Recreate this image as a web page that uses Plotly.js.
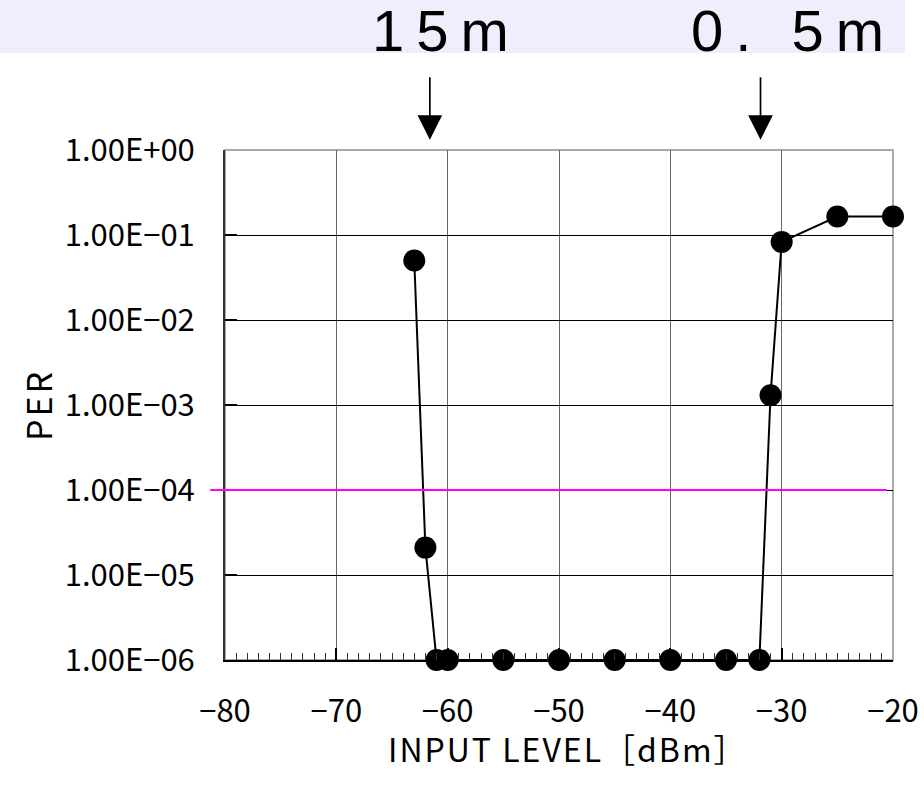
<!DOCTYPE html>
<html>
<head>
<meta charset="utf-8">
<script src="https://cdn.plot.ly/plotly-3.0.1.min.js"></script>
<style>html,body{margin:0;padding:0;background:#fff;}#chart{width:924px;height:792px;}</style>
</head>
<body>
<div id="chart"></div>
<script>
// Data
const inputLevel = [-63, -62, -61, -60, -55, -50, -45, -40, -35, -32, -31, -30, -25, -20];
const per = [5.0e-2, 2.1e-5, 1e-6, 1e-6, 1e-6, 1e-6, 1e-6, 1e-6, 1e-6, 1e-6, 1.3e-3, 8.3e-2, 1.65e-1, 1.65e-1];
const perLimit = 1e-4;
const yTickVals = [1e0, 1e-1, 1e-2, 1e-3, 1e-4, 1e-5, 1e-6];
const yTickText = ["1.00E+00", "1.00E\u221201", "1.00E\u221202", "1.00E\u221203", "1.00E\u221204", "1.00E\u221205", "1.00E\u221206"];
const xTitle = "INPUT LEVEL［dBm］";
const yTitle = "PER";
const distanceLabels = ["15m", "0. 5m"];
const distanceLabelX = [-60.1, -28.9];
const arrowX = [-61.6, -31.9];

const FONT = '"Noto Sans CJK JP", "Noto Sans", sans-serif';
const LABEL_FONT = '"Liberation Sans", Arial, sans-serif';

const traces = [{
  x: inputLevel,
  y: per,
  type: 'scatter',
  mode: 'lines+markers',
  line: {color: '#000', width: 2},
  marker: {color: '#000', size: 22, symbol: 'circle'},
  cliponaxis: false,
  showlegend: false,
  hoverinfo: 'x+y'
}];

const shapes = [
  // lavender header band
  {type: 'rect', xref: 'paper', yref: 'paper', x0: -0.34, x1: 1.018, y0: 1.19, y1: 1.30,
   fillcolor: '#eeeefc', line: {width: 0}, layer: 'below'},
  // plot frame (gray top/right)
  {type: 'rect', xref: 'paper', yref: 'paper', x0: 0, x1: 1, y0: 0, y1: 1,
   line: {color: '#aaaaaa', width: 2}, fillcolor: 'rgba(0,0,0,0)', layer: 'below'},
  // PER limit line
  {type: 'line', xref: 'paper', yref: 'y', x0: -0.022, x1: 0.991, y0: perLimit, y1: perLimit,
   line: {color: '#ff00ff', width: 2}, layer: 'above'}
];

const annotations = [];
for (let i = 0; i < arrowX.length; i++) {
  annotations.push({
    x: arrowX[i], xref: 'x', y: 1.02, yref: 'paper',
    text: '', showarrow: true, arrowhead: 2, arrowsize: 2.9, arrowwidth: 1.7,
    arrowcolor: '#000', ax: 0, ay: -64
  });
  annotations.push({
    x: distanceLabelX[i], xref: 'x', y: 1.235, yref: 'paper',
    text: '<span style="letter-spacing:12px">' + distanceLabels[i] + '</span>', showarrow: false,
    xanchor: 'center', yanchor: 'middle',
    font: {family: LABEL_FONT, size: 58, color: '#000'}
  });
}
// x-axis title placed under the tick labels
annotations.push({
  x: 0.513, xref: 'paper', y: -0.172, yref: 'paper',
  text: '<span style="letter-spacing:2px">' + xTitle + '</span>', showarrow: false,
  xanchor: 'center', yanchor: 'middle',
  font: {family: FONT, size: 32, color: '#000'}
});

const layout = {
  width: 924, height: 792,
  margin: {l: 225, r: 31, t: 150, b: 132},
  paper_bgcolor: '#fff', plot_bgcolor: '#fff',
  font: {family: FONT, size: 30, color: '#000'},
  showlegend: false,
  xaxis: {
    range: [-80, -20],
    dtick: 10, tick0: -80,
    ticks: 'inside', ticklen: 12, tickwidth: 2, tickcolor: '#000',
    minor: {dtick: 1, ticks: 'inside', ticklen: 7, tickwidth: 1, tickcolor: '#333', showgrid: false},
    showgrid: true, gridcolor: '#666', gridwidth: 1,
    showline: true, linecolor: '#000', linewidth: 2,
    zeroline: false,
    ticklabelstandoff: 23,
    tickfont: {family: FONT, size: 31, color: '#000'}
  },
  yaxis: {
    type: 'log',
    range: [-6, 0],
    tickvals: yTickVals, ticktext: yTickText,
    ticks: 'inside', ticklen: 12, tickwidth: 2, tickcolor: '#000',
    showgrid: true, gridcolor: '#000', gridwidth: 1,
    showline: true, linecolor: '#333', linewidth: 2,
    zeroline: false,
    ticklabelstandoff: 22,
    tickfont: {family: FONT, size: 31, color: '#000'},
    title: {text: '<span style="letter-spacing:3px">' + yTitle + '</span>', font: {family: FONT, size: 34, color: '#000'}, standoff: 2}
  },
  shapes: shapes,
  annotations: annotations
};

Plotly.newPlot('chart', traces, layout, {displayModeBar: false, staticPlot: true});
</script>
</body>
</html>
